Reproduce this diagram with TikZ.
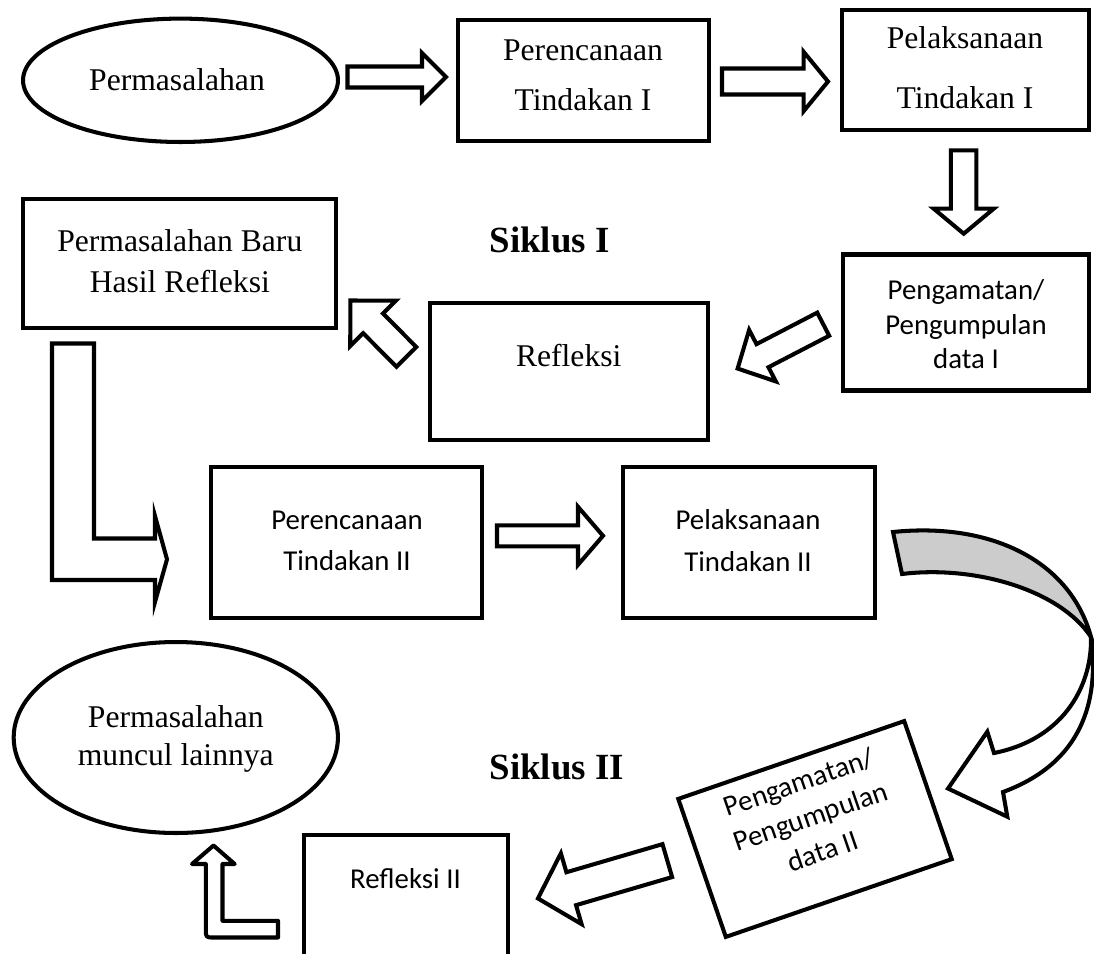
\documentclass[tikz,border=0pt]{standalone}
\usepackage{fontspec}
\setmainfont{Liberation Serif}
\newfontfamily\calibri{Carlito}
\usetikzlibrary{shapes.geometric}
\newcommand{\blockarrow}[7]{%
  \draw[arr, shift={(#1,#2)}, rotate=#3]
    (0,{-(#5)/2}) -- ({#4-#7},{-(#5)/2}) -- ({#4-#7},{-(#6)/2}) -- (#4,0)
    -- ({#4-#7},{(#6)/2}) -- ({#4-#7},{(#5)/2}) -- (0,{(#5)/2}) -- cycle;}
\begin{document}
\begin{tikzpicture}[x=0.02cm, y=-0.02cm,
  box/.style={draw=black, line width=2.3pt, rectangle, inner sep=0pt, fill=white},
  oval/.style={draw=black, line width=2.3pt, ellipse, inner sep=0pt},
  arr/.style={draw=black, fill=white, line width=2.3pt, line join=miter},
  serif/.style={font=\fontsize{18}{21}\selectfont, inner sep=0pt, anchor=base},
  sans/.style={font=\calibri\fontsize{16.4}{20}\selectfont, inner sep=0pt, anchor=base},
  cyc/.style={font=\bfseries\fontsize{21}{25}\selectfont, inner sep=0pt, anchor=base}]
\useasboundingbox (0,0) rectangle (1094,953);
\clip (0,0) rectangle (1094,953);

% top row
\node[oval, minimum width=6.3cm, minimum height=2.468cm] (e1) at (180.5,80.3) {};
\node[serif] (e1t) at (177,91) {Permasalahan};

\node[box, minimum width=5.02cm, minimum height=2.42cm] (p1) at (583.5,80.8) {};
\node[serif] (p1a) at (583,61) {Perencanaan};
\node[serif] (p1b) at (583,111) {Tindakan I};

\node[box, minimum width=4.946cm, minimum height=2.388cm] (p2) at (965.4,70) {};
\node[serif] (p2a) at (965,49) {Pelaksanaan};
\node[serif] (p2b) at (965,109) {Tindakan I};

\node[box, minimum width=4.92cm, minimum height=2.72cm] (p3) at (966,322.5) {};
\node[sans] (p3a) at (966,299) {Pengamatan/};
\node[sans] (p3b) at (966,334) {Pengumpulan};
\node[sans] (p3c) at (966,368) {data I};

\node[cyc] (s1) at (549.7,252) {Siklus I};

\node[box, minimum width=6.266cm, minimum height=2.58cm] (pb) at (179.7,263.5) {};
\node[serif] (pba) at (179.8,251) {Permasalahan Baru};
\node[serif] (pbb) at (179.8,292) {Hasil Refleksi};

\node[box, minimum width=5.554cm, minimum height=2.74cm] (rf) at (569.2,371.2) {};
\node[serif] (rft) at (568.7,366.7) {Refleksi};

% second cycle
\node[box, minimum width=5.414cm, minimum height=3.02cm] (q1) at (346.7,542.5) {};
\node[sans] (q1a) at (347,529.3) {Perencanaan};
\node[sans] (q1b) at (347,570.7) {Tindakan II};

\node[box, minimum width=5.052cm, minimum height=3.02cm] (q2) at (749,542.5) {};
\node[sans] (q2a) at (748,529.3) {Pelaksanaan};
\node[sans] (q2b) at (748,571) {Tindakan II};

\node[box, rotate=19, minimum width=4.78cm, minimum height=2.92cm] (q3) at (815,829) {};
\begin{scope}[shift={(815,829)}, rotate=19]
  \node[sans, rotate=19] (q3a) at (0,-40) {Pengamatan/};
  \node[sans, rotate=19] (q3b) at (0,-3.5) {Pengumpulan};
  \node[sans, rotate=19] (q3c) at (0,33) {data II};
\end{scope}

\node[cyc] (s2) at (556.7,779) {Siklus II};

\node[box, minimum width=4.086cm, minimum height=3.294cm] (q4) at (405.8,917.6) {};
\node[sans] (q4t) at (405.5,888.5) {Refleksi II};

\node[oval, minimum width=6.486cm, minimum height=3.82cm] (e2) at (175.8,737.5) {};
\node[serif] (e2a) at (175.8,727.5) {Permasalahan};
\node[serif] (e2b) at (175.8,765) {muncul lainnya};

% block arrows
\blockarrow{347.5}{77}{0}{98.5}{21}{48}{24}
\blockarrow{722}{81.5}{0}{106}{26}{59.4}{24.4}
\blockarrow{963.7}{150.3}{270}{83.4}{25.5}{60}{25}
\blockarrow{823.2}{324.2}{207.4}{96.4}{26}{58}{28}
\blockarrow{406.4}{356.9}{134.8}{79.5}{28}{64.4}{32.2}
\blockarrow{497}{535.8}{0}{106}{21}{58}{25}
\blockarrow{667.3}{860.6}{196.3}{134.8}{34.3}{73.8}{34.7}

% L-shaped arrow from Permasalahan Baru to Perencanaan II
\draw[arr] (52,343.5) -- (94,343.5) -- (94,538.5) -- (155,538.5) -- (155,516)
  -- (167,559.3) -- (155,602) -- (155,580) -- (52,580) -- cycle;

% L-shaped arrow up to the lower ellipse
\draw[arr, line join=round] (278,920.8) -- (222.5,920.8) -- (222.5,864) -- (234.7,864)
  -- (213.5,845.5) -- (192,864) -- (205.8,864) -- (205.8,929)
  .. controls (205.8,937.5) .. (214,937.5) -- (278,937.5) -- cycle;

% curved arrow
\draw[arr, fill=gray!40] (893,532) .. controls (990,522) and (1070,560) .. (1091,637)
  .. controls (1060,590) and (975,565) .. (902,574) -- cycle;
\draw[arr] (1091,637) .. controls (1092,690) and (1060,740) .. (994,753)
  -- (987.3,731.7) -- (948,788.5) -- (1007.3,816.7) -- (1003,792)
  .. controls (1090,760) and (1098,690) .. (1091,637) -- cycle;
\end{tikzpicture}
\end{document}
